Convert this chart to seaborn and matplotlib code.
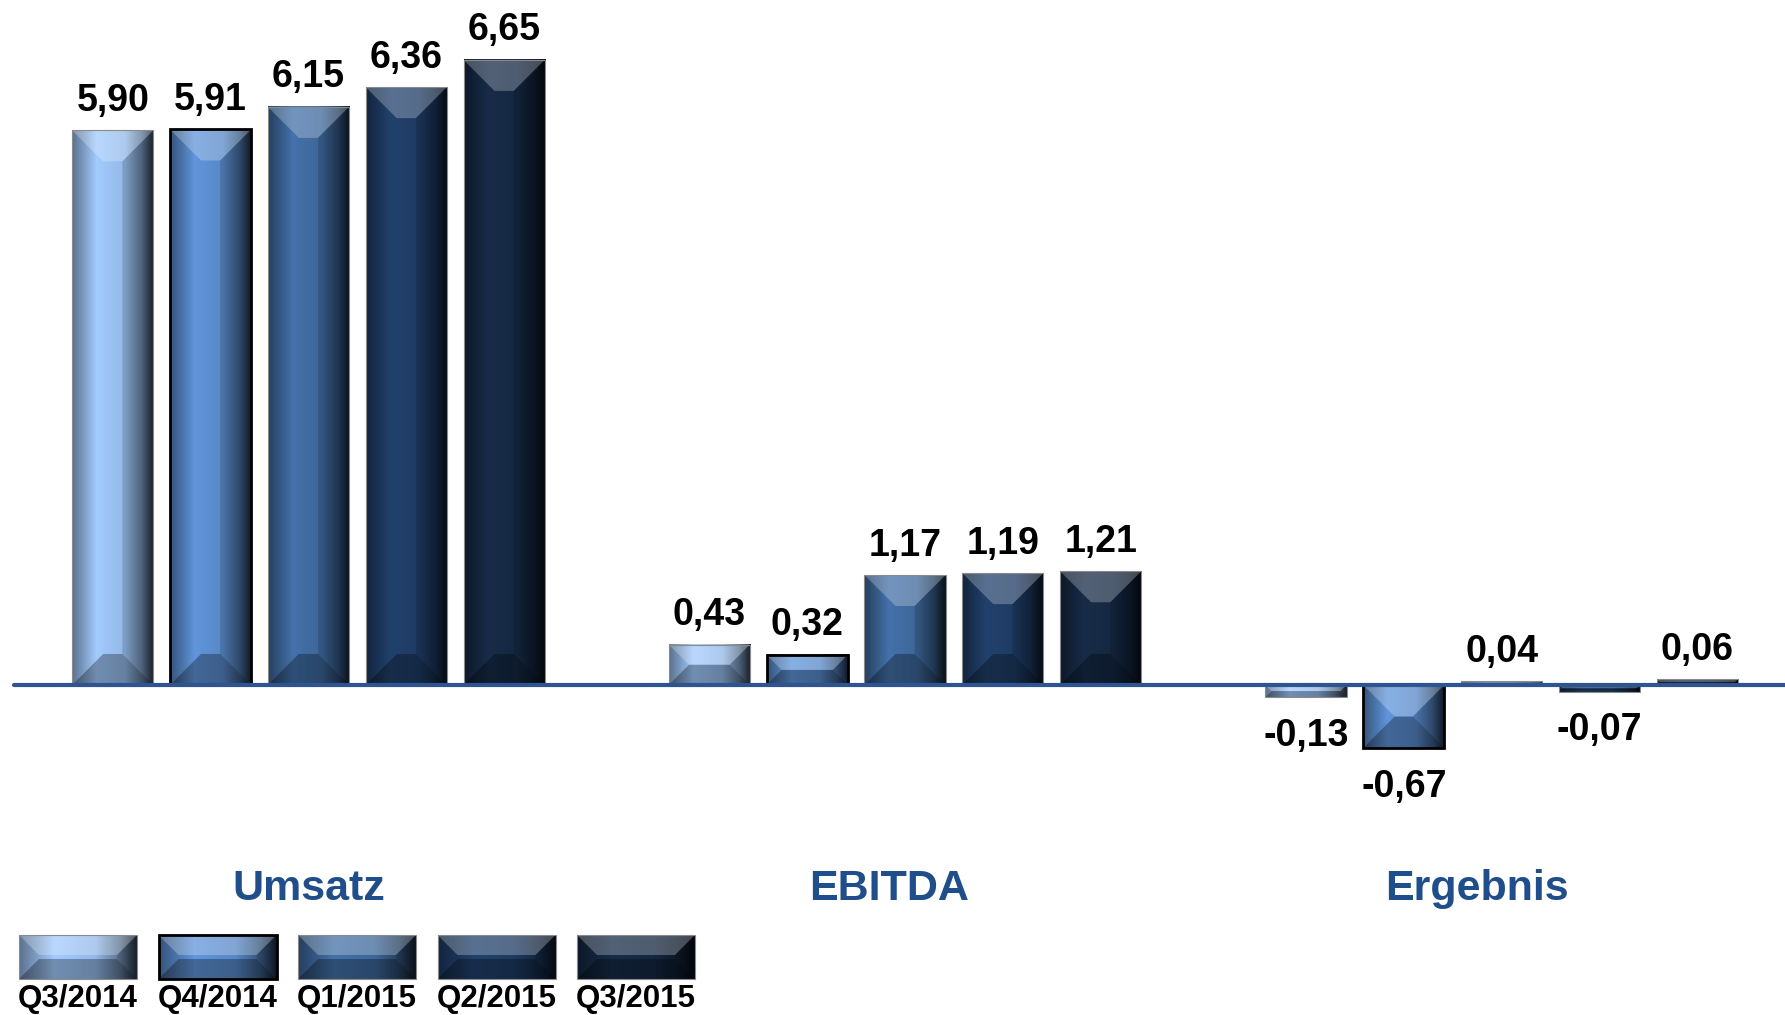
"""
Umsatz / EBITDA / Ergebnis je Quartal (Mio. EUR) - Balken mit Bevel-Optik
"""

import numpy as np
import pandas as pd
import matplotlib
matplotlib.use('Agg')
import matplotlib.pyplot as plt
from matplotlib.patches import Rectangle, Polygon
from matplotlib.colors import to_rgb
from matplotlib.transforms import blended_transform_factory
import seaborn as sns
import warnings
warnings.filterwarnings('ignore')

kennzahlen = ['Umsatz', 'EBITDA', 'Ergebnis']
quartale = ['Q3/2014', 'Q4/2014', 'Q1/2015', 'Q2/2015', 'Q3/2015']
umsatz = [5.90, 5.91, 6.15, 6.36, 6.65]
ebitda = [0.43, 0.32, 1.17, 1.19, 1.21]
ergebnis = [-0.13, -0.67, 0.04, -0.07, 0.06]

farben = ['#98BEEE', '#5A8CCD', '#3F6A9E', '#1F3D66', '#162944']
label_blau = '#1F4E8A'
W, H = 1785, 1015

rows = [(k, q, v) for k, vals in zip(kennzahlen, [umsatz, ebitda, ergebnis])
        for q, v in zip(quartale, vals)]
df = pd.DataFrame(rows, columns=['Kennzahl', 'Quartal', 'Wert'])

sns.set_theme(style='white')
plt.rcParams['font.family'] = ['Liberation Sans', 'DejaVu Sans']


def profil(base):
    t = np.linspace(0, 1, 96)
    f = np.interp(t, [0, 0.3, 0.65, 0.86, 1.0], [0.6, 1.07, 0.97, 0.6, 0.2])
    rgb = np.clip(np.array(to_rgb(base))[None, :] * f[:, None], 0, 1)
    return rgb[None, :, :]


def bevel_bar(ax, x0, y0, w, h, base, edge, lw, z=3, dmax=31):
    ax.imshow(profil(base), extent=[x0, x0 + w, y0, y0 + h], aspect='auto',
              interpolation='bilinear', zorder=z)
    p0 = ax.transData.transform((0, 0))
    p1 = ax.transData.transform((1, 1))
    sx, sy = abs(p1[0] - p0[0]), abs(p1[1] - p0[1])
    d = min(dmax, w * sx / 2, h * sy / 2)
    dx, dy = d / sx, d / sy
    top = [(x0, y0 + h), (x0 + w, y0 + h), (x0 + w - dx, y0 + h - dy), (x0 + dx, y0 + h - dy)]
    bot = [(x0, y0), (x0 + w, y0), (x0 + w - dx, y0 + dy), (x0 + dx, y0 + dy)]
    right = [(x0 + w, y0), (x0 + w, y0 + h), (x0 + w - dx, y0 + h - dy), (x0 + w - dx, y0 + dy)]
    ax.add_patch(Polygon(top, closed=True, fc='white', alpha=0.25, lw=0, zorder=z + 0.1))
    ax.add_patch(Polygon(bot, closed=True, fc='black', alpha=0.3, lw=0, zorder=z + 0.1))
    ax.add_patch(Polygon(right, closed=True, fc='black', alpha=0.15, lw=0, zorder=z + 0.1))
    ax.add_patch(Rectangle((x0, y0), w, h, fill=False, ec=edge, lw=lw, zorder=z + 0.2))


def fmt(v):
    return f'{v:.2f}'.replace('.', ',')


fig = plt.figure(figsize=(W / 100, H / 100), dpi=100)
ax = fig.add_axes([0, 0, 1, 1])
sns.barplot(data=df, x='Kennzahl', y='Wert', hue='Quartal', hue_order=quartale,
            palette=farben, saturation=1, width=0.82, gap=0.17, errorbar=None,
            legend=False, ax=ax)
ax.set_xlim(-0.517, 2.475)
ax.set_ylim(-3.511, 7.287)
ax.axis('off')

for cont, farbe, q in zip(ax.containers, farben, quartale):
    edge = 'black' if q == 'Q4/2014' else '#8A8A8A'
    lw = 2 if q == 'Q4/2014' else 0.8
    for p, v in zip(cont.patches, cont.datavalues):
        x0, w = p.get_x(), p.get_width()
        y0, h = min(p.get_y(), p.get_y() + p.get_height()), abs(p.get_height())
        p.set_visible(False)
        bevel_bar(ax, x0, y0, w, h, farbe, edge, lw)
        off = (0, 14) if v >= 0 else (0, -35)
        ax.annotate(fmt(v), (x0 + w / 2, v), xytext=off, textcoords='offset points',
                    ha='center', va='baseline', fontsize=27, fontweight='bold', color='black')

ax.axhline(0, xmin=14 / W, xmax=1, color='#2E5591', lw=3, zorder=10)
ax.set_xlim(-0.517, 2.475)
ax.set_ylim(-3.511, 7.287)

# Kategorie-Beschriftungen unter den Gruppen (leicht nach links versetzt wie im Original)
trans = blended_transform_factory(ax.transData, ax.transAxes)
versatz = [0, -0.027, -0.042]
for i, k in enumerate(kennzahlen):
    ax.text(i + versatz[i], 1 - 889 / H, k, transform=trans, ha='center', va='center',
            fontsize=31, fontweight='bold', color=label_blau)

# Legende unten links, Beschriftung unter den Farbfeldern
lax = fig.add_axes([0, 0, 1, 1])
lax.set_xlim(0, W)
lax.set_ylim(0, H)
lax.axis('off')
lax.patch.set_alpha(0)
for i, (q, farbe) in enumerate(zip(quartale, farben)):
    x0 = 19 + i * 139.5
    edge = 'black' if q == 'Q4/2014' else '#8A8A8A'
    lw = 2 if q == 'Q4/2014' else 0.8
    bevel_bar(lax, x0, H - 979, 118, 44, farbe, edge, lw, dmax=20)
    lax.text(x0 + 59, H - 1007, q, ha='center', va='baseline', fontsize=22.5,
             fontweight='bold', color='black')
lax.set_xlim(0, W)
lax.set_ylim(0, H)

fig.savefig('out.png', dpi=100)
